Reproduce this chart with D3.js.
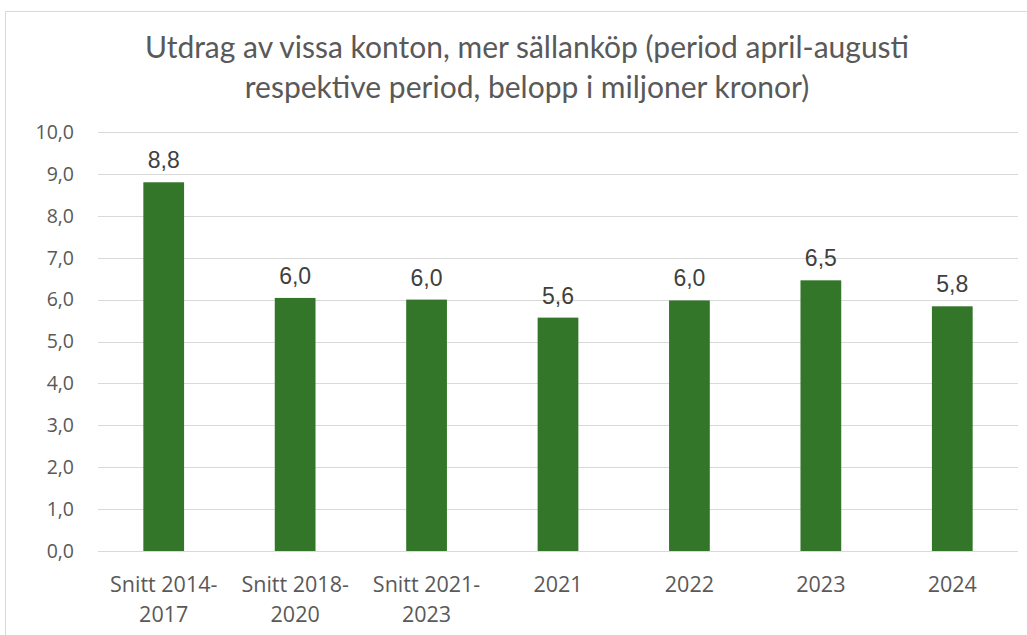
<!DOCTYPE html>
<html>
<head>
<meta charset="utf-8">
<script src="https://cdn.jsdelivr.net/npm/d3@7"></script>
<style>
  body { margin: 0; background: #fff; }
  svg { display: block; }
</style>
</head>
<body>
<svg id="chart"></svg>
<script>
const categories = [["Snitt 2014-", "2017"], ["Snitt 2018-", "2020"], ["Snitt 2021-", "2023"], ["2021"], ["2022"], ["2023"], ["2024"]]
const values = [8.8, 6.04, 6.0, 5.57, 5.98, 6.46, 5.84]
const yTicks = [0, 1, 2, 3, 4, 5, 6, 7, 8, 9, 10]
const titleLines = ["Utdrag av vissa konton, mer sällanköp (period april-augusti", "respektive period, belopp i miljoner kronor)"]

const width = 1027
const height = 635
const margin = { top: 132, right: 9, bottom: 84, left: 98 }
const plotW = width - margin.left - margin.right
const plotH = height - margin.top - margin.bottom

const fmt = v => v.toFixed(1).replace(".", ",")

const svg = d3.select("#chart").attr("width", width).attr("height", height)

// outer chart frame
svg.append("rect")
  .attr("x", 5.5).attr("y", 11.5)
  .attr("width", width + 10).attr("height", height + 10)
  .attr("fill", "none")
  .attr("stroke", "#d9d9d9")
  .attr("stroke-width", 1)

// title
svg.append("g").selectAll("text")
  .data(titleLines)
  .join("text")
  .attr("x", 527)
  .attr("y", (d, i) => 58 + i * 40)
  .attr("text-anchor", "middle")
  .style("font-family", "Lato, sans-serif")
  .style("font-size", "30px")
  .style("fill", "#595959")
  .text(d => d)

const g = svg.append("g").attr("transform", `translate(${margin.left},${margin.top})`)

const x = d3.scaleBand()
  .domain(d3.range(categories.length))
  .range([0, plotW])
  .paddingInner(0.69)
  .paddingOuter(0.345)

const y = d3.scaleLinear().domain([0, 10]).range([plotH, 0])

// gridlines
g.append("g")
  .selectAll("line")
  .data(yTicks)
  .join("line")
  .attr("x1", 0).attr("x2", plotW)
  .attr("y1", d => Math.round(y(d)) + 0.5)
  .attr("y2", d => Math.round(y(d)) + 0.5)
  .attr("stroke", "#d9d9d9")
  .attr("stroke-width", 1.2)

// y axis labels
g.append("g")
  .selectAll("text")
  .data(yTicks)
  .join("text")
  .attr("x", -24)
  .attr("y", d => y(d))
  .attr("dy", "0.35em")
  .attr("text-anchor", "end")
  .style("font-family", "'Open Sans', sans-serif")
  .style("font-size", "19.5px")
  .style("fill", "#595959")
  .text(d => fmt(d))

// bars
g.append("g")
  .selectAll("rect")
  .data(values)
  .join("rect")
  .attr("x", (d, i) => x(i))
  .attr("y", d => y(d))
  .attr("width", x.bandwidth())
  .attr("height", d => plotH - y(d))
  .attr("fill", "#33762a")

// data labels
g.append("g")
  .selectAll("text")
  .data(values)
  .join("text")
  .attr("x", (d, i) => x(i) + x.bandwidth() / 2)
  .attr("y", d => y(d) - 14)
  .attr("text-anchor", "middle")
  .style("font-family", "'Liberation Sans', Arial, sans-serif")
  .style("font-size", "23px")
  .style("fill", "#404040")
  .text(d => fmt(d))

// category labels
const catG = g.append("g")
  .selectAll("text")
  .data(categories)
  .join("text")
  .attr("x", (d, i) => x(i) + x.bandwidth() / 2)
  .attr("y", plotH + 41)
  .attr("text-anchor", "middle")
  .style("font-family", "'Open Sans', sans-serif")
  .style("font-size", "21.5px")
  .style("fill", "#595959")

catG.selectAll("tspan")
  .data(d => d)
  .join("tspan")
  .attr("x", function () { return d3.select(this.parentNode).attr("x") })
  .attr("dy", (d, i) => i === 0 ? 0 : 30)
  .text(d => d)
</script>
</body>
</html>
